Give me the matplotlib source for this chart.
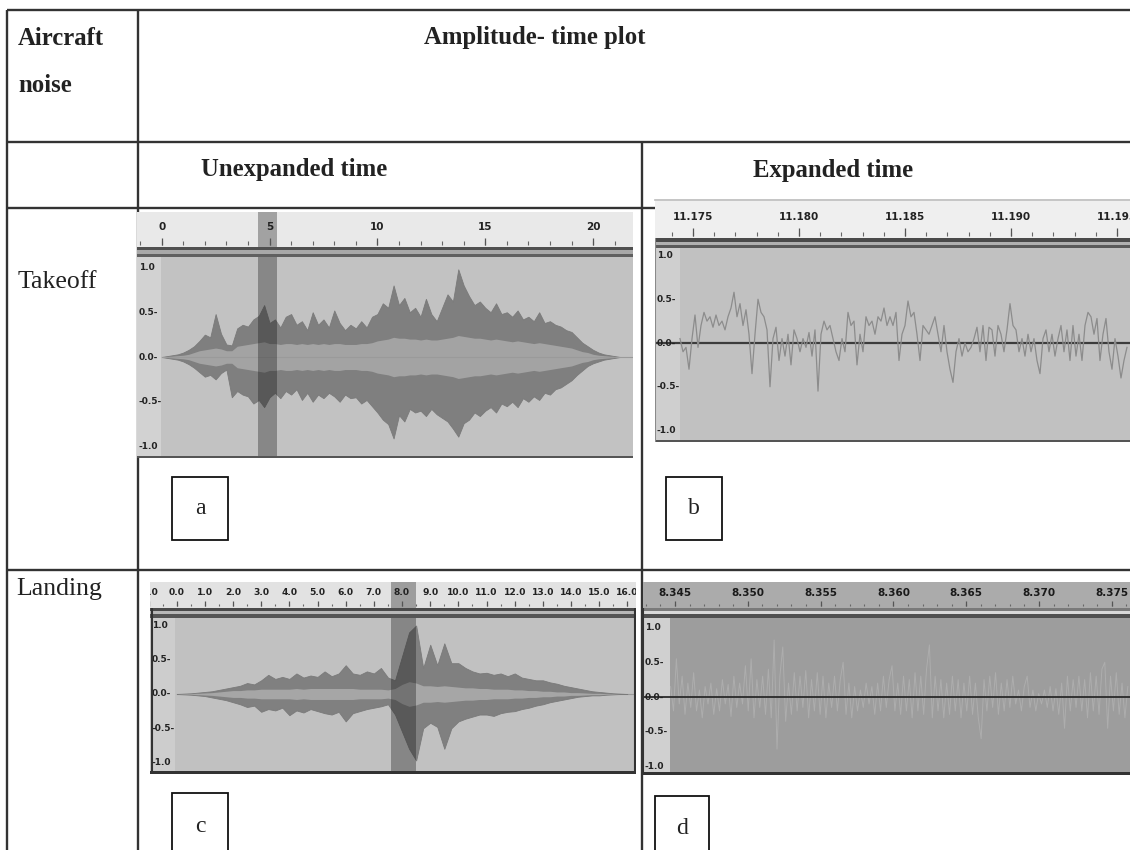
import numpy as np
import matplotlib
matplotlib.use("Agg")
import matplotlib.pyplot as plt
from matplotlib.patches import Rectangle

# ---------------- data ----------------
row_labels = ["Takeoff", "Landing"]
col_header = "Amplitude- time plot"
sub_headers = ["Unexpanded time", "Expanded time"]
panel_letters = ["a", "b", "c", "d"]

# (a) takeoff, unexpanded: peak envelope every 0.25 s
a_step = 0.25
a_upper = [0.00, 0.01, 0.02, 0.03, 0.05, 0.08, 0.12, 0.18, 0.25, 0.22, 0.48, 0.26,
           0.14, 0.13, 0.32, 0.36, 0.34, 0.42, 0.46, 0.58, 0.38, 0.42, 0.33, 0.45,
           0.48, 0.36, 0.40, 0.30, 0.50, 0.36, 0.42, 0.33, 0.52, 0.38, 0.30, 0.36,
           0.32, 0.40, 0.33, 0.45, 0.48, 0.60, 0.55, 0.80, 0.58, 0.66, 0.50, 0.55,
           0.45, 0.65, 0.48, 0.40, 0.55, 0.70, 0.62, 0.98, 0.80, 0.68, 0.58, 0.62,
           0.55, 0.50, 0.60, 0.48, 0.50, 0.45, 0.52, 0.42, 0.45, 0.40, 0.50, 0.38,
           0.40, 0.36, 0.34, 0.30, 0.28, 0.22, 0.16, 0.12, 0.08, 0.05, 0.03, 0.02,
           0.01, 0.00, 0.00]
a_lower = [0.00, -0.01, -0.02, -0.03, -0.05, -0.08, -0.12, -0.17, -0.22, -0.20, -0.25, -0.18,
           -0.14, -0.45, -0.38, -0.42, -0.44, -0.52, -0.48, -0.56, -0.45, -0.40, -0.46, -0.38,
           -0.42, -0.36, -0.48, -0.40, -0.50, -0.42, -0.46, -0.40, -0.44, -0.50, -0.42, -0.46,
           -0.45, -0.52, -0.48, -0.55, -0.62, -0.70, -0.75, -0.91, -0.65, -0.72, -0.58, -0.62,
           -0.60, -0.66, -0.58, -0.64, -0.68, -0.72, -0.80, -0.89, -0.74, -0.70, -0.62, -0.66,
           -0.60, -0.56, -0.62, -0.52, -0.55, -0.50, -0.56, -0.46, -0.50, -0.44, -0.48, -0.40,
           -0.42, -0.36, -0.34, -0.30, -0.26, -0.20, -0.15, -0.10, -0.07, -0.05, -0.03, -0.02,
           -0.01, 0.00, 0.00]
a_rms = [0.000, 0.005, 0.010, 0.015, 0.02, 0.03, 0.05, 0.07, 0.08, 0.09, 0.10, 0.09,
         0.07, 0.07, 0.12, 0.13, 0.14, 0.15, 0.16, 0.17, 0.15, 0.15, 0.14, 0.15,
         0.15, 0.14, 0.15, 0.14, 0.15, 0.14, 0.15, 0.14, 0.15, 0.15, 0.14, 0.14,
         0.14, 0.15, 0.15, 0.16, 0.18, 0.19, 0.20, 0.22, 0.21, 0.21, 0.20, 0.20,
         0.19, 0.20, 0.19, 0.19, 0.20, 0.21, 0.22, 0.24, 0.23, 0.22, 0.21, 0.21,
         0.20, 0.19, 0.20, 0.19, 0.18, 0.17, 0.18, 0.17, 0.16, 0.15, 0.16, 0.15,
         0.14, 0.13, 0.12, 0.11, 0.10, 0.08, 0.06, 0.05, 0.03, 0.02, 0.015, 0.01,
         0.005, 0.00, 0.00]
a_selection = [4.46, 5.34]
a_ticks = [0, 5, 10, 15, 20]
a_ticklabels = ["0", "5", "10", "15", "20"]

# (b) takeoff, expanded: samples
b_start = 11.174387
b_rate = 7067.0
b_samples = [0.05, -0.10, -0.05, -0.30, 0.05, 0.32, -0.05, 0.20, 0.35, 0.25,
             0.30, 0.18, 0.32, 0.20, 0.25, 0.15, 0.30, 0.40, 0.58, 0.30,
             0.45, 0.20, 0.38, 0.10, -0.35, 0.10, 0.50, 0.35, 0.30, 0.15,
             -0.50, 0.05, 0.18, -0.20, 0.05, -0.15, 0.10, -0.25, 0.15, 0.05,
             -0.10, 0.05, -0.05, 0.12, -0.15, 0.15, -0.55, 0.10, 0.25, 0.15,
             0.20, 0.05, -0.10, -0.20, 0.05, -0.10, 0.35, 0.20, 0.25, -0.25,
             0.10, -0.10, 0.30, 0.20, 0.25, 0.10, 0.30, 0.25, 0.40, 0.20,
             0.30, 0.20, 0.35, -0.20, 0.10, 0.20, 0.48, 0.30, 0.35, 0.10,
             -0.20, 0.20, 0.15, 0.10, 0.20, 0.30, 0.10, -0.10, 0.20, -0.10,
             -0.30, -0.45, -0.10, 0.05, -0.15, 0.00, -0.10, -0.05, 0.05, 0.18,
             -0.10, 0.20, -0.20, 0.18, 0.15, -0.15, 0.20, 0.10, -0.10, 0.15,
             0.45, 0.20, 0.15, -0.10, 0.05, -0.15, 0.10, -0.10, 0.05, -0.20,
             -0.35, 0.05, 0.15, -0.10, 0.10, -0.15, 0.05, 0.20, -0.10, 0.15,
             -0.20, 0.20, -0.15, 0.10, -0.20, 0.20, 0.35, 0.30, 0.10, 0.28,
             -0.20, 0.10, 0.28, -0.10, -0.30, 0.05, -0.15, -0.40, -0.20, -0.05]
b_ticks = [11.175, 11.180, 11.185, 11.190, 11.195]
b_ticklabels = ["11.175", "11.180", "11.185", "11.190", "11.195"]

# (c) landing, unexpanded: peak envelope every 0.25 s
c_step = 0.25
c_upper = [0.00, 0.005, 0.01, 0.02, 0.03, 0.04, 0.06, 0.08, 0.10, 0.12, 0.16, 0.14,
           0.20, 0.28, 0.22, 0.25, 0.22, 0.30, 0.24, 0.27, 0.25, 0.33, 0.26, 0.30,
           0.42, 0.30, 0.28, 0.33, 0.30, 0.38, 0.24, 0.20, 0.55, 0.90, 1.00, 0.38,
           0.72, 0.42, 0.74, 0.45, 0.45, 0.38, 0.33, 0.30, 0.31, 0.28, 0.30, 0.26,
           0.30, 0.24, 0.22, 0.20, 0.20, 0.17, 0.15, 0.12, 0.10, 0.08, 0.06, 0.04,
           0.03, 0.02, 0.01, 0.005, 0.00]
c_lower = [0.00, -0.005, -0.01, -0.02, -0.03, -0.05, -0.07, -0.09, -0.12, -0.15, -0.19, -0.17,
           -0.26, -0.22, -0.24, -0.20, -0.31, -0.24, -0.27, -0.22, -0.25, -0.28, -0.30, -0.26,
           -0.40, -0.28, -0.25, -0.22, -0.20, -0.18, -0.15, -0.30, -0.55, -0.80, -0.97, -0.50,
           -0.42, -0.48, -0.80, -0.50, -0.40, -0.36, -0.33, -0.30, -0.30, -0.32, -0.28, -0.26,
           -0.25, -0.22, -0.20, -0.17, -0.15, -0.12, -0.10, -0.08, -0.06, -0.04, -0.03, -0.02,
           -0.02, -0.01, -0.005, 0.00, 0.00]
c_rms = [0.000, 0.003, 0.005, 0.01, 0.015, 0.02, 0.03, 0.04, 0.05, 0.05, 0.06, 0.06,
         0.07, 0.07, 0.07, 0.07, 0.07, 0.08, 0.07, 0.08, 0.08, 0.08, 0.08, 0.08,
         0.08, 0.08, 0.07, 0.07, 0.07, 0.07, 0.06, 0.08, 0.14, 0.18, 0.16, 0.12,
         0.12, 0.11, 0.12, 0.11, 0.10, 0.09, 0.09, 0.08, 0.08, 0.07, 0.07, 0.07,
         0.06, 0.06, 0.05, 0.05, 0.04, 0.04, 0.03, 0.03, 0.02, 0.02, 0.015, 0.01,
         0.01, 0.005, 0.003, 0.00, 0.00]
c_selection = [7.62, 8.51]
c_ticks = [-1.0, 0.0, 1.0, 2.0, 3.0, 4.0, 5.0, 6.0, 7.0, 8.0, 9.0, 10.0, 11.0, 12.0, 13.0, 14.0, 15.0, 16.0]
c_ticklabels = ["-1.0", "0.0", "1.0", "2.0", "3.0", "4.0", "5.0", "6.0", "7.0", "8.0", "9.0",
                "10.0", "11.0", "12.0", "13.0", "14.0", "15.0", "16.0"]

# (d) landing, expanded: samples
d_start = 8.3447
d_rate = 5064.0
d_samples = [0.15, -0.20, 0.55, -0.10, 0.30, -0.25, 0.20, -0.15, 0.35, -0.20,
             0.10, -0.30, 0.15, -0.10, 0.20, -0.25, 0.12, -0.20, 0.25, -0.10,
             0.18, -0.28, 0.30, -0.15, 0.20, -0.10, 0.45, -0.20, 0.55, -0.30,
             0.25, -0.15, 0.30, -0.25, 0.40, -0.30, 0.82, -0.75, 0.30, 0.72,
             -0.35, 0.20, -0.25, 0.35, -0.20, 0.30, -0.15, 0.38, -0.30, 0.25,
             -0.20, 0.35, -0.25, 0.30, -0.30, 0.20, -0.15, 0.30, -0.20, 0.25,
             0.50, -0.25, 0.20, -0.30, 0.15, -0.20, 0.10, -0.15, 0.20, -0.10,
             0.15, -0.25, 0.20, -0.20, 0.30, -0.15, 0.25, 0.45, -0.20, 0.20,
             -0.25, 0.30, -0.20, 0.25, -0.30, 0.35, -0.20, 0.30, -0.25, 0.40,
             0.75, -0.30, 0.30, -0.20, 0.25, -0.30, 0.20, -0.25, 0.30, -0.20,
             0.25, -0.30, 0.20, -0.20, 0.30, -0.25, 0.20, -0.30, -0.60, 0.25,
             -0.20, 0.30, -0.15, 0.35, -0.25, 0.20, -0.20, 0.25, -0.15, 0.30,
             -0.10, 0.10, -0.20, 0.15, 0.30, -0.15, 0.10, -0.20, 0.05, -0.10,
             0.10, -0.15, 0.15, -0.20, 0.12, -0.25, 0.20, -0.45, 0.30, -0.20,
             0.25, -0.15, 0.30, -0.20, 0.25, -0.30, 0.35, -0.20, 0.30, -0.25,
             0.40, 0.50, -0.45, 0.30, -0.20, 0.35, -0.25, 0.20, -0.30, 0.15]
d_ticks = [8.345, 8.350, 8.355, 8.360, 8.365, 8.370, 8.375]
d_ticklabels = ["8.345", "8.350", "8.355", "8.360", "8.365", "8.370", "8.375"]

amp_ticks = [1.0, 0.5, 0.0, -0.5, -1.0]
amp_ticklabels = ["1.0", "0.5-", "0.0-", "-0.5-", "-1.0"]

# ---------------- figure / table ----------------
W, H = 1130, 850
fig = plt.figure(figsize=(W / 100, H / 100), dpi=100)
fig.patch.set_facecolor("white")
bg = fig.add_axes([0, 0, 1, 1])
bg.set_xlim(0, W)
bg.set_ylim(H, 0)
bg.axis("off")

SERIF = ["Liberation Serif", "DejaVu Serif"]
NARROW = ["Liberation Sans Narrow", "DejaVu Sans"]
LC = "#333333"
LW = 1.7

for (x0, y0, x1, y1) in [(7, 10, W, 10), (7, 142, W, 142), (7, 208, W, 208), (7, 570, W, 570),
                         (7, 10, 7, H), (138, 10, 138, H), (642, 142, 642, H)]:
    bg.plot([x0, x1], [y0, y1], color=LC, lw=LW, solid_capstyle="butt")

HFS = 17.8
bg.text(18, 38, "Aircraft", fontsize=HFS, fontweight="bold", family=SERIF, va="center", ha="left", color="#222")
bg.text(18, 85, "noise", fontsize=HFS, fontweight="bold", family=SERIF, va="center", ha="left", color="#222")
bg.text(535, 37, col_header, fontsize=HFS, fontweight="bold", family=SERIF, va="center", ha="center", color="#222")
bg.text(294, 169, sub_headers[0], fontsize=HFS, fontweight="bold", family=SERIF, va="center", ha="center", color="#222")
bg.text(833, 170, sub_headers[1], fontsize=HFS, fontweight="bold", family=SERIF, va="center", ha="center", color="#222")
bg.text(18, 282, row_labels[0], fontsize=18.5, family=SERIF, va="center", ha="left", color="#222")
bg.text(16, 589, row_labels[1], fontsize=18.5, family=SERIF, va="center", ha="left", color="#222")

for (x0, y0, x1, y1), letter in zip([(172, 477, 228, 540), (666, 477, 722, 540),
                                     (172, 793, 228, 860), (655, 796, 709, 860)], panel_letters):
    bg.add_patch(Rectangle((x0, y0), x1 - x0, y1 - y0, facecolor="white", edgecolor="#111", lw=1.3, zorder=3))
    bg.text((x0 + x1) / 2, min((y0 + y1) / 2, y0 + 33), letter, fontsize=17, family=SERIF,
            ha="center", va="center", color="#222", zorder=4)


def px_axes(x0, y0, x1, y1):
    return fig.add_axes([x0 / W, 1 - y1 / H, (x1 - x0) / W, (y1 - y0) / H])


def make_ruler(box, tl, tr, face, ticks, labels, minor_step, sel=None, label_color="#222", fs=7.5):
    x0, y0, x1, y1 = box
    ax = px_axes(x0, y0, x1, y1)
    ax.set_xlim(tl, tr)
    ax.set_ylim(0, 1)
    ax.set_facecolor(face)
    for s in ax.spines.values():
        s.set_visible(False)
    ax.set_xticks([])
    ax.set_yticks([])
    first = np.ceil(tl / minor_step) * minor_step
    minors = np.arange(first, tr, minor_step)
    ax.vlines(minors, 0.06, 0.16, color="#666", lw=0.8)
    ax.vlines(ticks, 0.06, 0.26, color="#555", lw=0.9)
    for t, lab in zip(ticks, labels):
        ax.text(t, 0.58, lab, ha="center", va="center", fontsize=fs, fontweight="bold",
                family=NARROW, color=label_color, clip_on=True)
    if sel is not None:
        ax.axvspan(sel[0], sel[1], color="black", alpha=0.3, lw=0)
    return ax


def make_wave(box, tl, tr, t_wave, zero_px, unit_px, strip_c, wave_c, bands, sel=None):
    x0, y0, x1, y1 = box
    ax = px_axes(x0, y0, x1, y1)
    ax.set_xlim(tl, tr)
    ax.set_ylim((zero_px - y1) / unit_px, (zero_px - y0) / unit_px)
    ax.set_facecolor(strip_c)
    ax.axvspan(t_wave, tr, color=wave_c, lw=0, zorder=0)
    for (pa, pb, col) in bands:
        ax.axhspan((zero_px - pb) / unit_px, (zero_px - pa) / unit_px, color=col, lw=0, zorder=5)
    ax.set_xticks([])
    ax.set_yticks([])
    for s in ax.spines.values():
        s.set_visible(False)
    tr_y = ax.get_yaxis_transform()
    for v, lab in zip(amp_ticks, amp_ticklabels):
        ax.text(0.004, v, lab, transform=tr_y, fontsize=6.5, fontweight="bold", family=NARROW,
                ha="left", va="center", color="#222", zorder=6)
    if sel is not None:
        ax.axvspan(sel[0], sel[1], color="black", alpha=0.3, lw=0, zorder=4)
    return ax


# ---------------- panel a ----------------
sa = 21.57  # px per second
ta0 = 161.7
tl, tr = (137 - ta0) / sa, (633 - ta0) / sa
make_ruler((137, 212, 633, 247), tl, tr, "#e9e9e9", a_ticks, a_ticklabels, 1.0, sel=a_selection)
ax = make_wave((137, 247, 633, 458), tl, tr, (161 - ta0) / sa, 357, 89.5, "#d2d2d2", "#c2c2c2",
               [(247, 250, "#505050"), (250, 254, "#a8a8a8"), (254, 257, "#606060"), (456, 458, "#555555")],
               sel=a_selection)
ta = np.arange(len(a_upper)) * a_step
ax.fill_between(ta, a_lower, a_upper, color="#7f7f7f", lw=0.6, edgecolor="#7a7a7a", zorder=2)
ax.fill_between(ta, -np.array(a_rms), a_rms, color="#a3a3a3", lw=0, zorder=3)
ax.plot([0, tr], [0, 0], color="#9a9a9a", lw=0.8, zorder=3)

# ---------------- panel b ----------------
sb = 21200.0
tb0_px = 693
tl, tr = 11.175 + (655 - tb0_px) / sb, 11.175 + (1130 - tb0_px) / sb
bg.plot([655, W], [200, 200], color="#bbbbbb", lw=1.2)
make_ruler((655, 201, 1130, 238), tl, tr, "#efefef", b_ticks, b_ticklabels, 0.001)
ax = make_wave((655, 238, 1130, 442), tl, tr, 11.175 + (680 - tb0_px) / sb, 343, 87.5, "#cfcfcf", "#c1c1c1",
               [(238, 242, "#4a4a4a"), (242, 245, "#b0b0b0"), (245, 248, "#5a5a5a"), (440, 442, "#555555")])
tb = b_start + np.arange(len(b_samples)) / b_rate
ax.axhline(0, color="#3c3c3c", lw=1.6, zorder=2)
ax.plot(tb, b_samples, color="#8c8c8c", lw=0.9, zorder=3)
ax.axvline(tl, color="#8a8a8a", lw=1.5, zorder=6)

# ---------------- panel c ----------------
sc = 28.17
tc0_px = 176.7
tl, tr = (150 - tc0_px) / sc, (636 - tc0_px) / sc
make_ruler((150, 582, 636, 608), tl, tr, "#e2e2e2", c_ticks, c_ticklabels, 0.5, sel=c_selection, fs=6.6)
ax = make_wave((150, 608, 636, 774), tl, tr, (175 - tc0_px) / sc, 694, 68.5, "#cdcdcd", "#c1c1c1",
               [(608, 611, "#4a4a4a"), (611, 614, "#b8b8b8"), (614, 618, "#555555"), (771, 774, "#333333")],
               sel=c_selection)
tcs = np.arange(len(c_upper)) * c_step
ax.plot([0, tr], [0, 0], color="#9a9a9a", lw=0.8, zorder=1)
ax.fill_between(tcs, c_lower, c_upper, color="#808080", lw=0.6, edgecolor="#7a7a7a", zorder=2)
ax.fill_between(tcs, -np.array(c_rms), c_rms, color="#a6a6a6", lw=0, zorder=3)
ax.axvline((152 - tc0_px) / sc, color="#333", lw=1.5, zorder=6)
ax.axvline((635 - tc0_px) / sc, color="#333", lw=1.5, zorder=6)

# ---------------- panel d ----------------
sd = 14560.0
td0_px = 675
tl, tr = 8.345 + (643 - td0_px) / sd, 8.345 + (1130 - td0_px) / sd
make_ruler((643, 582, 1130, 608), tl, tr, "#ababab", d_ticks, d_ticklabels, 0.001, label_color="#1a1a1a")
ax = make_wave((643, 608, 1130, 775), tl, tr, 8.345 + (670 - td0_px) / sd, 697, 69.5, "#d0d0d0", "#9d9d9d",
               [(608, 611, "#7a7a7a"), (611, 614, "#d8d8d8"), (614, 618, "#505050"), (772, 775, "#333333")])
tdd = d_start + np.arange(len(d_samples)) / d_rate
ax.plot(tdd, d_samples, color="#b3b3b3", lw=0.7, alpha=0.75, zorder=2)
ax.axhline(0, color="#2a2a2a", lw=1.3, zorder=3)
ax.axvline(tl, color="#333", lw=1.5, zorder=6)

fig.savefig("out.png", dpi=100, facecolor="white")
